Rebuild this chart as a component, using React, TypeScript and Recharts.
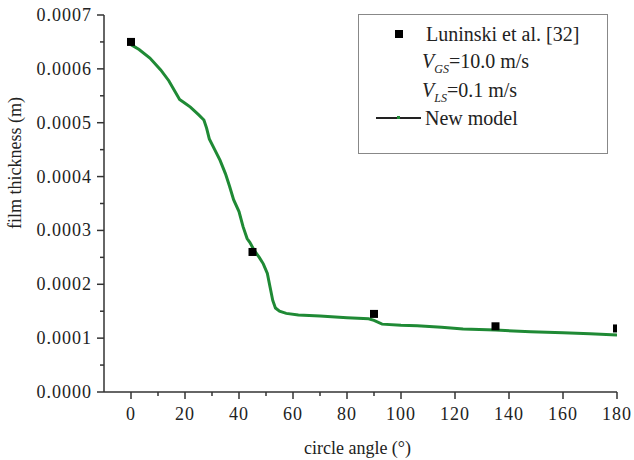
import React from "react"
import { ComposedChart, Line, Scatter, XAxis, YAxis } from "recharts"

// model curve
const modelAngle = [
  0, 3, 7, 11, 14, 18, 20, 22, 25, 27, 28, 29, 31, 33, 35, 36.5, 38, 40, 41.5, 43, 44, 45.5, 47.5, 49, 50.5,
  51.5, 52.5, 53.5, 55, 57.5, 62, 70, 80, 88, 90, 93, 100, 106, 115, 123, 135, 148, 160, 170, 180,
]
const modelThickness = [
  0.000645, 0.000636, 0.00062, 0.000598, 0.000578, 0.000543, 0.000536, 0.000529, 0.000515, 0.000505, 0.00049,
  0.00047, 0.00045, 0.00043, 0.000405, 0.000382, 0.000357, 0.000335, 0.000307, 0.000285, 0.000278, 0.000264,
  0.00025, 0.000238, 0.00022, 0.000195, 0.00017, 0.000156, 0.00015, 0.000146, 0.000143, 0.000141, 0.000138,
  0.000136, 0.000133, 0.000126, 0.000124, 0.000123, 0.00012, 0.000117, 0.000115, 0.000112, 0.00011, 0.000108,
  0.000106,
]

// Luninski et al. measurements
const expAngle = [0, 45, 90, 135, 180]
const expThickness = [0.00065, 0.00026, 0.000145, 0.000122, 0.000118]

const xTicks = [0, 10, 20, 30, 40, 50, 60, 70, 80, 90, 100, 110, 120, 130, 140, 150, 160, 170, 180]
const yTicks = [
  0, 0.00005, 0.0001, 0.00015, 0.0002, 0.00025, 0.0003, 0.00035, 0.0004, 0.00045, 0.0005, 0.00055, 0.0006,
  0.00065, 0.0007,
]

const modelData = modelAngle.map((a, i) => ({ angle: a, thickness: modelThickness[i] }))
const expData = expAngle.map((a, i) => ({ angle: a, thickness: expThickness[i] }))

const serif = "'Liberation Serif', 'Times New Roman', serif"
const axisColor = "#333"

function XTick({ x, y, payload }: any) {
  const major = payload.value % 20 === 0
  const len = major ? 7 : 4
  return (
    <g>
      <line x1={x} x2={x} y1={y} y2={y + len} stroke={axisColor} strokeWidth={1.5} />
      {major && (
        <text x={x} y={y + 28} textAnchor="middle" style={{ fontFamily: serif }} fontSize={18} letterSpacing={1} fill="#222">
          {payload.value}
        </text>
      )}
    </g>
  )
}

function YTick({ x, y, payload }: any) {
  const major = Math.round(payload.value / 0.00005) % 2 === 0
  const len = major ? 7 : 4
  return (
    <g>
      <line x1={x - len} x2={x} y1={y} y2={y} stroke={axisColor} strokeWidth={1.5} />
      {major && (
        <text x={x - 12} y={y + 6} textAnchor="end" style={{ fontFamily: serif }} fontSize={18} letterSpacing={1} fill="#222">
          {payload.value.toFixed(4)}
        </text>
      )}
    </g>
  )
}

function SquareMarker({ cx, cy }: any) {
  return <rect x={cx - 4} y={cy - 4} width={8} height={8} fill="#000" />
}

function ChartLegend() {
  const row: React.CSSProperties = { position: "absolute", fontFamily: serif, fontSize: 20, color: "#222", lineHeight: "22px", whiteSpace: "nowrap" }
  return (
    <div style={{ position: "absolute", left: 358, top: 14, width: 248, height: 138, border: "1.5px solid #888", background: "#fff" }}>
      <div style={{ position: "absolute", left: 36, top: 15, width: 8, height: 8, background: "#000" }} />
      <span style={{ ...row, left: 67, top: 8 }}>Luninski et al. [32]</span>
      <span style={{ ...row, left: 63, top: 35 }}>
        <i>V</i>
        <sub style={{ fontSize: 12, fontStyle: "italic" }}>GS</sub>=10.0 m/s
      </span>
      <span style={{ ...row, left: 63, top: 64 }}>
        <i>V</i>
        <sub style={{ fontSize: 12, fontStyle: "italic" }}>LS</sub>=0.1 m/s
      </span>
      <div style={{ position: "absolute", left: 17, top: 102, width: 45, height: 1.5, background: "#222" }} />
      <div style={{ position: "absolute", left: 38, top: 101, width: 3, height: 3, background: "#1f8a35" }} />
      <span style={{ ...row, left: 66, top: 92 }}>New model</span>
    </div>
  )
}

export default function App() {
  return (
    <div style={{ position: "absolute", left: 0, top: 0, width: 634, height: 460, background: "#fff" }}>
      <ComposedChart width={634} height={460} margin={{ top: 15, right: 17, bottom: 0, left: 0 }}>
        <XAxis
          type="number"
          dataKey="angle"
          domain={[-10, 180]}
          ticks={xTicks}
          allowDataOverflow
          height={68}
          tickSize={0}
          tickMargin={0}
          tick={<XTick />}
          stroke={axisColor}
          strokeWidth={1.5}
          label={{ value: "circle angle (°)", position: "insideBottom", offset: 6, dx: -3, fontFamily: serif, fontSize: 18, fill: "#222" }}
        />
        <YAxis
          type="number"
          dataKey="thickness"
          domain={[0, 0.0007]}
          ticks={yTicks}
          width={104}
          tickSize={0}
          tickMargin={0}
          tick={<YTick />}
          stroke={axisColor}
          strokeWidth={1.5}
          label={() => (
            <text
              x={21}
              y={163}
              transform="rotate(-90 21 163)"
              textAnchor="middle"
              style={{ fontFamily: serif }}
              fontSize={18}
              fill="#222"
            >
              film thickness (m)
            </text>
          )}
        />
        <Line
          data={modelData}
          dataKey="thickness"
          type="linear"
          stroke="#1f8a35"
          strokeWidth={3}
          dot={false}
          isAnimationActive={false}
        />
        <Scatter data={expData} dataKey="thickness" fill="#000" shape={<SquareMarker />} isAnimationActive={false} />
      </ComposedChart>
      <ChartLegend />
    </div>
  )
}
